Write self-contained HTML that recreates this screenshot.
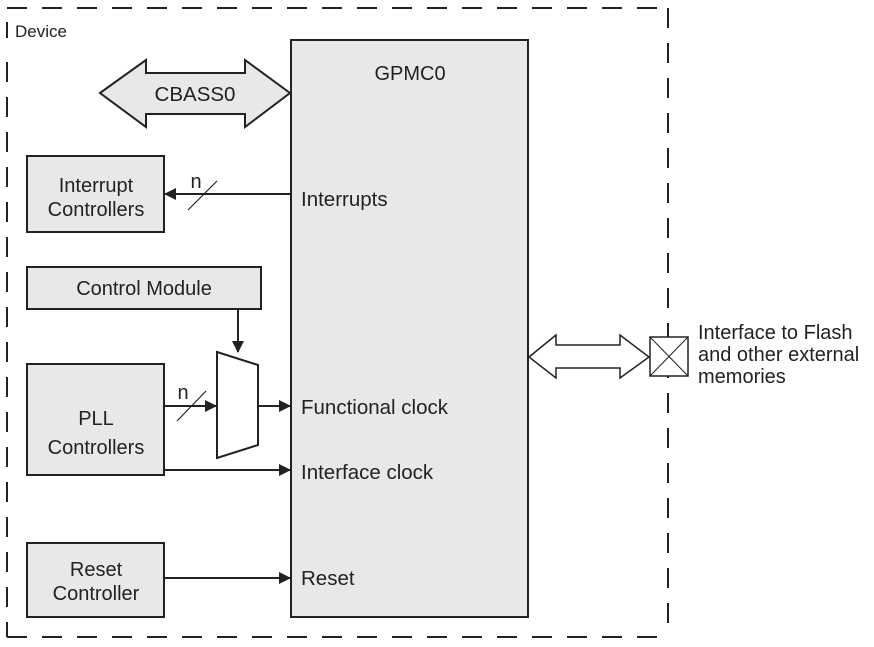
<!DOCTYPE html>
<html><head><style>
body{margin:0;background:#fff}
svg{display:block;font-family:"Liberation Sans",Arial,sans-serif}
</style></head><body>
<svg width="874" height="647" viewBox="0 0 874 647" xmlns="http://www.w3.org/2000/svg">
<defs><marker id="a" markerWidth="12" markerHeight="12" refX="11" refY="6" orient="auto" markerUnits="userSpaceOnUse"><path d="M0,0 L12,6 L0,12 z" fill="#222"/></marker></defs>
<g stroke="#222" stroke-width="2" fill="none" stroke-dasharray="20,15">
<line x1="7" y1="8" x2="668" y2="8"/>
<line x1="7" y1="637" x2="668" y2="637"/>
<line x1="7" y1="62" x2="7" y2="637"/>
<line x1="668" y1="8" x2="668" y2="637"/>
</g>
<line x1="7" y1="22" x2="7" y2="38" stroke="#222" stroke-width="2"/>
<text x="15" y="37" font-size="17" fill="#222">Device</text>
<rect x="291" y="40" width="237" height="577" fill="#e8e8e8" stroke="#222" stroke-width="2"/>
<text x="410" y="80" font-size="20" text-anchor="middle" fill="#222">GPMC0</text>
<path d="M100,93 L146,60 L146,73 L245,73 L245,60 L290,93 L245,127 L245,114 L146,114 L146,127 Z" fill="#e8e8e8" stroke="#222" stroke-width="2"/>
<text x="195" y="101" font-size="20.5" text-anchor="middle" fill="#222">CBASS0</text>
<rect x="27" y="156" width="137" height="76" fill="#e8e8e8" stroke="#222" stroke-width="2"/>
<text x="96" y="192" font-size="20" text-anchor="middle" fill="#222">Interrupt</text>
<text x="96" y="216" font-size="20" text-anchor="middle" fill="#222">Controllers</text>
<line x1="291" y1="194" x2="165" y2="194" stroke="#222" stroke-width="2" marker-end="url(#a)"/>
<line x1="188" y1="210" x2="217" y2="181" stroke="#222" stroke-width="1.2"/>
<text x="196" y="188" font-size="20" text-anchor="middle" fill="#222">n</text>
<text x="301" y="206" font-size="20.5" fill="#222">Interrupts</text>
<rect x="27" y="267" width="234" height="42" fill="#e8e8e8" stroke="#222" stroke-width="2"/>
<text x="144" y="295" font-size="20" text-anchor="middle" fill="#222">Control Module</text>
<line x1="238" y1="309" x2="238" y2="352" stroke="#222" stroke-width="2" marker-end="url(#a)"/>
<path d="M217,352 L258,365 L258,445 L217,458 Z" fill="#fff" stroke="#222" stroke-width="2"/>
<rect x="27" y="364" width="137" height="111" fill="#e8e8e8" stroke="#222" stroke-width="2"/>
<text x="96" y="425" font-size="20" text-anchor="middle" fill="#222">PLL</text>
<text x="96" y="454" font-size="20" text-anchor="middle" fill="#222">Controllers</text>
<line x1="164" y1="406" x2="216" y2="406" stroke="#222" stroke-width="2" marker-end="url(#a)"/>
<line x1="177" y1="421" x2="206" y2="391" stroke="#222" stroke-width="1.2"/>
<text x="183" y="399" font-size="20" text-anchor="middle" fill="#222">n</text>
<line x1="258" y1="406" x2="290" y2="406" stroke="#222" stroke-width="2" marker-end="url(#a)"/>
<text x="301" y="414" font-size="20.5" fill="#222">Functional clock</text>
<line x1="164" y1="470" x2="290" y2="470" stroke="#222" stroke-width="2" marker-end="url(#a)"/>
<text x="301" y="479" font-size="20.5" fill="#222">Interface clock</text>
<rect x="27" y="543" width="137" height="74" fill="#e8e8e8" stroke="#222" stroke-width="2"/>
<text x="96" y="576" font-size="20" text-anchor="middle" fill="#222">Reset</text>
<text x="96" y="600" font-size="20" text-anchor="middle" fill="#222">Controller</text>
<line x1="164" y1="578" x2="290" y2="578" stroke="#222" stroke-width="2" marker-end="url(#a)"/>
<text x="301" y="585" font-size="20.5" fill="#222">Reset</text>
<path d="M529,357 L556,335 L556,345 L620,345 L620,335 L649,357 L620,378 L620,368 L556,368 L556,378 Z" fill="#fff" stroke="#222" stroke-width="1.5"/>
<rect x="650" y="337" width="38" height="39" fill="#fff" stroke="#222" stroke-width="1.5"/>
<line x1="650" y1="337" x2="688" y2="376" stroke="#222" stroke-width="1"/>
<line x1="688" y1="337" x2="650" y2="376" stroke="#222" stroke-width="1"/>
<text x="698" y="339" font-size="20" fill="#222">Interface to Flash</text>
<text x="698" y="361" font-size="20" fill="#222">and other external</text>
<text x="698" y="383" font-size="20" fill="#222">memories</text>
</svg>
</body></html>
